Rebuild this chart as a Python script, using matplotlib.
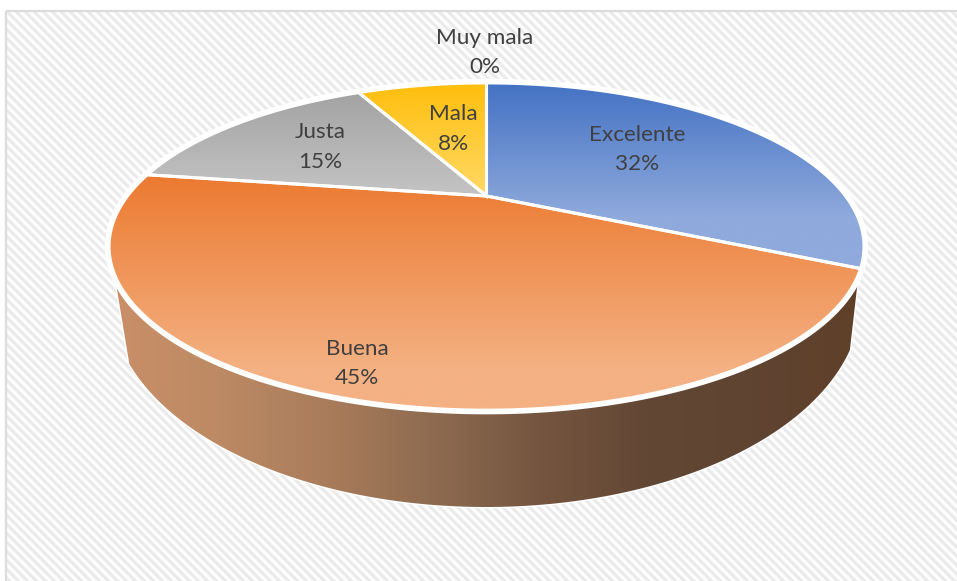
import numpy as np
import matplotlib
matplotlib.use("Agg")
import matplotlib.pyplot as plt
from matplotlib.colors import LinearSegmentedColormap
from matplotlib.patches import Polygon, Rectangle

plt.rcParams['font.family'] = ['Lato', 'DejaVu Sans']

categories = ["Excelente", "Buena", "Justa", "Mala", "Muy mala"]
values = [32, 45.4, 15.1, 7.5, 0]
label_pos = [(637.5, 149.5), (357, 363.5), (320, 147), (453, 129), (485, 52.5)]

top_colors = ["#4472C4", "#EC7A30", "#A3A3A3", "#FFBE0B", "#5B9BD5"]
bottom_colors = ["#8FAADC", "#F4B183", "#C4C4C4", "#FFD966", "#9DC3E6"]
grad_len = [0.72, 0.83, 1.0, 1.0, 1.0]
wall_colors = ["#C98F68", "#BC8A64", "#A97C5B", "#8E6B50", "#755540", "#624734", "#5F4432", "#5F4029"]

# tilted pie: unit circle seen in perspective
CX, CY = 486.5, 196
A, B, K = 359, 148, 0.309


def project(theta):
    # theta in degrees, clockwise from the top
    t = np.radians(theta)
    u, v = np.sin(t), np.cos(t)
    w = 1 + K * v
    return CX + A * u / w, CY - B * v / w


fig = plt.figure(figsize=(9.57, 5.81), dpi=100)
ax = fig.add_axes([0, 0, 1, 1])

# hatched background
yy, xx = np.mgrid[0:581, 0:957]
bg = 0.955 + 0.045 * np.cos(2 * np.pi * (xx - yy) / 9.0)
bg[:, :6] = 1.0
bg[:11, :] = 1.0
ax.imshow(bg, cmap='gray', vmin=0, vmax=1, extent=(0, 957, 581, 0), aspect='auto', zorder=0)
ax.add_patch(Rectangle((6, 11), 960, 580, fill=False, ec="#DCDCDC", lw=1.6, zorder=1))

# side wall
t = np.linspace(14, 162, 200)
wx = 486 + 375 * np.cos(np.radians(t))
wy = 300 + 207 * np.sin(np.radians(t))
rim_x, rim_y = project(np.linspace(117, 243, 200))
wall_xy = np.r_[np.c_[rim_x, rim_y], np.c_[wx[::-1], wy[::-1]]]
ax.add_patch(Polygon(wall_xy, closed=True, fc='white', ec='white', lw=2, zorder=1.5))
wall = Polygon(wall_xy, closed=True, fc='none', ec='none')
ax.add_patch(wall)
wall_cmap = LinearSegmentedColormap.from_list("wall", wall_colors)
im = ax.imshow(np.linspace(0, 1, 256).reshape(1, -1), cmap=wall_cmap, extent=(113, 860, 581, 0), aspect='auto', zorder=2)
im.set_clip_path(wall)

# white rim round the top
full_x, full_y = project(np.linspace(0, 360, 400))
ax.fill(full_x, full_y, fc='white', ec='white', lw=6, zorder=3)

# slices
start = 0
total = sum(values)
for i, val in enumerate(values):
    sweep = 360.0 * val / total
    if val > 0:
        px, py = project(np.linspace(start, start + sweep, 120))
        pts = np.r_[[[CX, CY]], np.c_[px, py]]
        wedge = Polygon(pts, closed=True, fc='none', ec='none')
        ax.add_patch(wedge)
        top = pts[:, 1].min()
        bot = pts[:, 1].max()
        cmap = LinearSegmentedColormap.from_list("g", [top_colors[i], bottom_colors[i]])
        ramp = np.clip(np.linspace(0, 1 / grad_len[i], 256), 0, 1).reshape(-1, 1)
        im = ax.imshow(ramp, cmap=cmap, vmin=0, vmax=1, extent=(100, 880, bot, top), aspect='auto', zorder=4)
        im.set_clip_path(wedge)
        ax.add_patch(Polygon(pts, closed=True, fc='none', ec='white', lw=2.2, zorder=5))
    start += sweep

for name, val, pos in zip(categories, values, label_pos):
    ax.text(pos[0], pos[1], "%s\n%.0f%%" % (name, val), ha='center', va='center', fontsize=16.2,
            color="#404040", linespacing=1.6, zorder=6)

ax.set_xlim(0, 957)
ax.set_ylim(581, 0)
ax.axis('off')
fig.savefig("out.png", dpi=100)
